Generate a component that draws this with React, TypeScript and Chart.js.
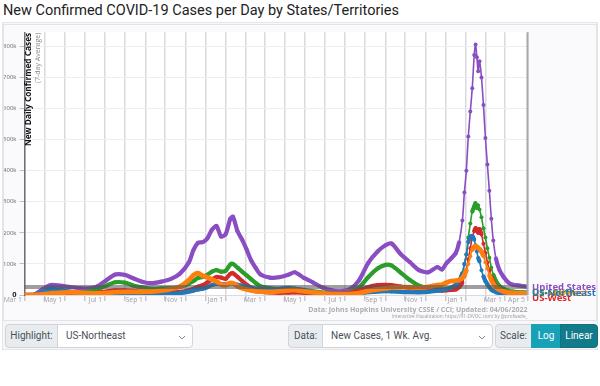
import React, { useEffect, useRef } from "react";
import { Chart, registerables } from "chart.js";

Chart.register(...registerables);

// ---------- DATA ----------
const dates = [
  "2020-03-01","2020-03-15","2020-03-29","2020-04-10","2020-04-24","2020-05-08","2020-05-22","2020-06-05",
  "2020-06-19","2020-07-03","2020-07-17","2020-07-31","2020-08-14","2020-08-28","2020-09-11","2020-09-25",
  "2020-10-09","2020-10-23","2020-11-06","2020-11-13","2020-11-20","2020-11-27","2020-12-04","2020-12-11",
  "2020-12-18","2020-12-25","2021-01-01","2021-01-08","2021-01-12","2021-01-19","2021-01-26","2021-02-02",
  "2021-02-09","2021-02-16","2021-02-23","2021-03-09","2021-03-23","2021-04-06","2021-04-16","2021-04-30",
  "2021-05-14","2021-05-28","2021-06-11","2021-06-25","2021-07-09","2021-07-23","2021-08-06","2021-08-20",
  "2021-09-01","2021-09-10","2021-09-24","2021-10-08","2021-10-22","2021-11-05","2021-11-19","2021-11-26",
  "2021-12-03","2021-12-10","2021-12-17","2021-12-22","2021-12-27","2021-12-30","2022-01-02","2022-01-05",
  "2022-01-08","2022-01-11","2022-01-14","2022-01-16","2022-01-18","2022-01-20","2022-01-22","2022-01-25",
  "2022-01-28","2022-01-31","2022-02-03","2022-02-06","2022-02-09","2022-02-12","2022-02-16","2022-02-21",
  "2022-02-28","2022-03-07","2022-03-14","2022-03-21","2022-03-28","2022-04-05",
];

// thousands of new cases per day (7-day average)
const unitedStates = [
  0,0.6,19,32,30,26,22,21,27,47,66,65,53,42,38,43,51,68,105,145,168,170,182,210,
  222,188,196,245,252,205,178,145,110,86,66,56,57,65,73,55,40,24,15,12,19,48,104,140,
  160,166,132,106,80,73,90,82,103,118,135,170,240,330,400,510,590,665,772,806,765,720,752,700,
  611,505,420,335,245,175,118,82,57,40,33,31,29,27,
];
const usSouth = [
  0,0.1,4,8,9,9,9,10,17,30,41,40,30,24,20,21,22,26,37,45,55,58,65,75,
  80,75,78,98,100,88,75,63,50,38,28,22,19,18,19,16,12,8,5.5,5,9,25,58,85,
  97,95,72,48,30,22,20,18,20,22,27,40,70,100,130,185,230,268,285,295,280,288,275,250,
  215,185,150,120,88,65,45,30,20,14,11,9.5,8.5,8,
];
const usWest = [
  0,0.1,2.5,4,4.5,4.5,4.5,5,7,11,15,15,13,10,8.5,8,8.5,10,15,20,27,32,40,50,
  58,56,52,68,70,58,45,33,23,16,11,8,7,7.5,8,7,6,5,4,4.5,7,15,26,32,
  33,32,27,22,18,16,16,14,15,16,18,25,40,60,80,115,150,185,205,215,210,200,212,195,
  165,135,105,80,58,42,28,18,11,7,5,4.5,4,4,
];
const usNortheast = [
  0,0.3,10,20,17,11,6.5,4,2.5,2,2.5,2.5,2.5,2.5,2.7,3.5,4.5,6,11,14,18,20,25,32,
  36,35,34,38,37,33,30,27,23,20,19,18,20,23,21,15,9,5,2.5,1.5,2,4.5,9,11,
  12,11.5,10,9,8.5,10,14,15,19,24,33,45,70,100,130,170,188,190,178,160,140,120,108,80,
  60,45,35,25,17,13,9,6.5,5,4,4,4.5,5,5.5,
];
const usMidwest = [
  0,0.2,2.5,5,7,8.5,8,6,5,6.5,9,10,10,10.5,11,14,19,27,48,64,70,62,57,50,
  44,34,32,38,38,28,22,18,15,12,11,10,12,15,16,12,8.5,5.5,3,2.5,3,6,13,18,
  21,24,25,25,24,26,32,33,40,45,46,48,55,65,80,100,125,145,155,158,155,152,148,140,
  125,105,85,65,48,36,25,17,11,8,6.5,6,5.5,5.5,
];
const referenceLevel = 26; // thousands

const seriesNames = ["United States", "US-South", "US-West", "US-Northeast", "US-Midwest"];
const seriesValues = [unitedStates, usSouth, usWest, usNortheast, usMidwest];
const seriesColors = ["#8a4dc2", "#2a9d2a", "#d42a2a", "#2278b8", "#ff7f0e"];
const seriesLabelShift = [1, 0, 5, 0.5, 0];

const yTickValues = [0, 100, 200, 300, 400, 500, 600, 700, 800];
const yMax = 845;
const monthNames = ["Jan","Feb","Mar","Apr","May","Jun","Jul","Aug","Sep","Oct","Nov","Dec"];
const startDate = "2020-03-01";
const endDate = "2022-04-05";

// ---------- HELPERS ----------
function toUtc(s: string) {
  const [y, m, d] = s.split("-").map(Number);
  return Date.UTC(y, m - 1, d);
}
function dayIndex(s: string) {
  return Math.round((toUtc(s) - toUtc(startDate)) / 86400000);
}
const xMax = dayIndex(endDate);

function buildXTicks() {
  const ticks: { value: number; label: string }[] = [];
  const start = new Date(toUtc(startDate));
  let y = start.getUTCFullYear();
  let m = start.getUTCMonth();
  let i = 0;
  while (true) {
    const t = Date.UTC(y, m, 1);
    const v = Math.round((t - toUtc(startDate)) / 86400000);
    if (v >= xMax - 6) break;
    ticks.push({ value: v, label: i % 2 === 0 ? `${monthNames[m]} 1` : "" });
    i++;
    m++;
    if (m > 11) { m = 0; y++; }
  }
  const e = new Date(toUtc(endDate));
  ticks.push({ value: xMax, label: `${monthNames[e.getUTCMonth()]} ${e.getUTCDate()}` });
  return ticks;
}
const xTicks = buildXTicks();

const overlayPlugin = {
  id: "overlay",
  beforeDraw(chart: any) {
    const { ctx, chartArea: a } = chart;
    ctx.save();
    ctx.fillStyle = "#ffffff";
    ctx.fillRect(a.left, a.top, a.right - a.left, a.bottom - a.top);
    ctx.restore();
  },
  afterDraw(chart: any) {
    const { ctx, chartArea: a, scales } = chart;
    ctx.save();
    ctx.strokeStyle = "#a8a8ae";
    ctx.lineWidth = 2;
    ctx.beginPath();
    ctx.moveTo(a.right, a.top);
    ctx.lineTo(a.right, a.bottom);
    ctx.stroke();

    ctx.textAlign = "left";
    ctx.textBaseline = "middle";
    ctx.font = 'bold 9.5px "Open Sans"';
    const order = [1, 2, 4, 3, 0];
    for (const i of order) {
      const vals = seriesValues[i];
      const y = scales.y.getPixelForValue(vals[vals.length - 1]) + seriesLabelShift[i];
      ctx.fillStyle = seriesColors[i];
      ctx.fillText(seriesNames[i], a.right + 4.5, y);
    }

    ctx.textAlign = "right";
    ctx.fillStyle = "#acacb2";
    ctx.font = 'bold 7px "Open Sans"';
    ctx.fillText("Data: Johns Hopkins University CSSE / CCI; Updated: 04/06/2022", a.right, a.bottom + 15);
    ctx.font = '4.6px "Open Sans"';
    ctx.fillStyle = "#9a9aa0";
    ctx.fillText("Interactive Visualization: https://91-DIVOC.com/ by @profwade_", a.right, a.bottom + 22);

    ctx.save();
    ctx.translate(a.left + 4.5, a.top + 0.5);
    ctx.rotate(-Math.PI / 2);
    ctx.textAlign = "right";
    ctx.textBaseline = "middle";
    ctx.font = 'bold 8.3px "Open Sans"';
    ctx.fillStyle = "#111111";
    ctx.fillText("New Daily Confirmed Cases", 0, 0);
    ctx.font = '7px "Open Sans"';
    ctx.fillStyle = "#8a8a90";
    ctx.fillText("(7-day Average)", 0, 9);
    ctx.restore();
    ctx.restore();
  },
};

function ChartCanvas() {
  const ref = useRef<HTMLCanvasElement | null>(null);
  useEffect(() => {
    if (!ref.current) return;
    const xs = dates.map(dayIndex);
    const lineDatasets = seriesValues.map((vals, i) => ({
      label: seriesNames[i],
      data: vals.map((v, k) => ({ x: xs[k], y: v })),
      borderColor: seriesColors[i],
      backgroundColor: seriesColors[i],
      pointBackgroundColor: seriesColors[i],
      pointBorderWidth: 0,
      pointRadius: 2,
      borderWidth: 4.2,
      tension: 0.25,
      fill: false,
      segment: {
        borderWidth: (c: any) => {
          const dx = Math.abs(c.p1.x - c.p0.x);
          const dy = Math.abs(c.p1.y - c.p0.y);
          const steep = dx < 2.5 ? dy > dx * 3 : dy > dx * 6;
          return steep ? 1.6 : i === 4 ? 4.8 : 4.2;
        },
      },
    }));
    const refDataset = {
      label: "reference",
      data: [{ x: 0, y: referenceLevel }, { x: xMax, y: referenceLevel }],
      borderColor: "rgba(80,80,84,0.55)",
      borderWidth: 4,
      pointRadius: 0,
      fill: false,
    };
    const datasets = [refDataset, lineDatasets[4], lineDatasets[3], lineDatasets[2], lineDatasets[1], lineDatasets[0]];

    const chart = new Chart(ref.current, {
      type: "line",
      data: { datasets: datasets as any },
      plugins: [overlayPlugin],
      options: {
        animation: false,
        responsive: false,
        events: [],
        parsing: false as any,
        layout: { padding: { left: 0, right: 69.5, top: 7.3, bottom: 0 } },
        plugins: { legend: { display: false }, tooltip: { enabled: false } },
        scales: {
          x: {
            type: "linear",
            min: 0,
            max: xMax,
            afterBuildTicks: (s: any) => { s.ticks = xTicks.map((t) => ({ value: t.value })); },
            afterFit: (s: any) => { s.height = 25; },
            grid: { color: "#d9d9de", lineWidth: 1.5, tickLength: 6, tickColor: "#c8c8cc" },
            border: { display: true, color: "#d9d9de", width: 1 },
            ticks: {
              autoSkip: false,
              maxRotation: 0,
              align: "end",
              labelOffset: -2.5,
              padding: -5,
              color: "#a0a0a6",
              font: { size: 6.8, family: "Open Sans" },
              callback: (_v: any, idx: number) => xTicks[idx] ? xTicks[idx].label : "",
            },
          },
          y: {
            type: "linear",
            min: 0,
            max: yMax,
            afterBuildTicks: (s: any) => { s.ticks = yTickValues.map((v) => ({ value: v })); },
            afterFit: (s: any) => { s.width = 20.5; },
            grid: { color: "#ececf1", lineWidth: 1, tickLength: 5, tickColor: "#c0c0c6" },
            border: { display: true, color: "#6e6e74", width: 1.5 },
            ticks: {
              padding: 3,
              color: (c: any) => (c.tick && c.tick.value === 0 ? "#222" : "#6a6a70"),
              font: (c: any) =>
                c.tick && c.tick.value === 0
                  ? { size: 7.5, weight: "bold", family: "Open Sans" }
                  : { size: 6, family: "Open Sans" },
              callback: (v: any) => (v === 0 ? "0" : `${v}k`),
            },
          },
        },
      } as any,
    });
    return () => chart.destroy();
  }, []);
  return (
    <canvas
      ref={ref}
      width={593}
      height={295}
      style={{ position: "absolute", left: 4, top: 25, width: 593, height: 295 }}
    />
  );
}

function Chevron() {
  return (
    <svg width="8" height="5" style={{ position: "absolute", right: 6, top: 10 }}>
      <polyline points="1,1 4,4 7,1" fill="none" stroke="#8a8a90" strokeWidth="1" />
    </svg>
  );
}

const labelStyle: React.CSSProperties = {
  position: "absolute",
  top: 0,
  height: 22,
  background: "#e9ecef",
  border: "1px solid #ced4da",
  color: "#495057",
  fontSize: 10,
  lineHeight: "22px",
  textAlign: "center",
  boxSizing: "content-box",
};
const selectStyle: React.CSSProperties = {
  position: "absolute",
  top: 0,
  height: 22,
  background: "#ffffff",
  border: "1px solid #ced4da",
  color: "#495057",
  fontSize: 10,
  lineHeight: "22px",
  paddingLeft: 8,
  boxSizing: "content-box",
};

export default function App() {
  return (
    <div style={{ position: "relative", width: 600, height: 386, background: "#fff", fontFamily: "Roboto, sans-serif", overflow: "hidden" }}>
      <style>{`body{margin:0}`}</style>
      <div style={{ position: "absolute", left: 3, top: 2, fontSize: 14.5, color: "#222", whiteSpace: "nowrap" }}>
        New Confirmed COVID-19 Cases per Day by States/Territories
      </div>
      <div style={{ position: "absolute", left: 2, top: 22, width: 596, height: 328, background: "#f7f7fa", border: "1px solid #e6e6ea", boxSizing: "border-box" }} />
      <div style={{ position: "absolute", left: 3, top: 24, width: 594, height: 297, border: "1px solid #e2e2e8", boxSizing: "border-box", background: "#fafafc" }} />
      <ChartCanvas />
      <div style={{ position: "absolute", left: 0, top: 324, width: 600, height: 24 }}>
        <div style={{ ...labelStyle, left: 5, width: 51, borderRadius: "4px 0 0 4px" }}>Highlight:</div>
        <div style={{ ...selectStyle, left: 57, width: 126, borderRadius: "0 4px 4px 0" }}>
          US-Northeast
          <Chevron />
        </div>
        <div style={{ ...labelStyle, left: 288, width: 33, borderRadius: "4px 0 0 4px" }}>Data:</div>
        <div style={{ ...selectStyle, left: 322, width: 161, borderRadius: "0 4px 4px 0" }}>
          New Cases, 1 Wk. Avg.
          <Chevron />
        </div>
        <div style={{ ...labelStyle, left: 495, width: 35, borderRadius: "4px 0 0 4px" }}>Scale:</div>
        <div style={{ ...labelStyle, left: 531, width: 28, background: "#17a2b8", border: "1px solid #17a2b8", color: "#fff" }}>Log</div>
        <div style={{ ...labelStyle, left: 560, width: 36, background: "#117a8b", border: "1px solid #10707f", color: "#fff", borderRadius: "0 4px 4px 0" }}>Linear</div>
      </div>
    </div>
  );
}
